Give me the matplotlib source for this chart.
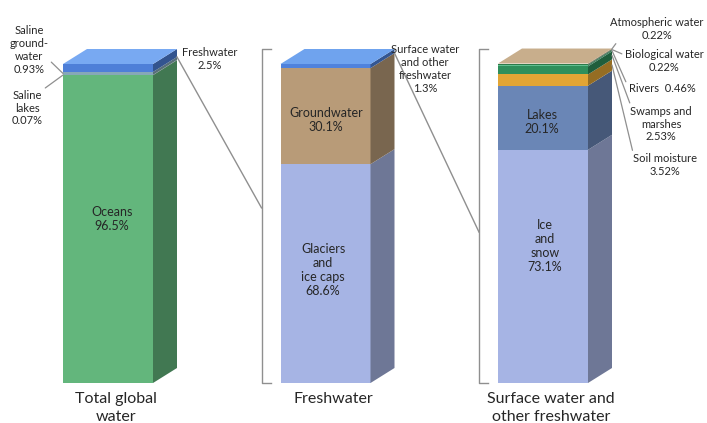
import numpy as np
import matplotlib.pyplot as plt
from matplotlib.patches import Polygon
from matplotlib.colors import to_rgb

plt.rcParams['font.family'] = ['Lato', 'DejaVu Sans']

# stacked shares, bottom to top
total_names = ["Oceans", "Saline lakes", "Saline groundwater", "Freshwater"]
total_values = [96.5, 0.07, 0.93, 2.5]
total_colors = ["#63b67c", "#9cc4a6", "#86a8b8", "#4e7fd8"]

fresh_names = ["Glaciers and ice caps", "Groundwater", "Surface water and other freshwater"]
fresh_values = [68.6, 30.1, 1.3]
fresh_colors = ["#a6b4e4", "#b89b78", "#4f82dc"]

surface_names = ["Ice and snow", "Lakes", "Soil moisture", "Swamps and marshes",
                 "Rivers", "Biological water", "Atmospheric water"]
surface_values = [73.1, 20.1, 3.52, 2.53, 0.46, 0.22, 0.22]
surface_colors = ["#a6b4e4", "#6a86b6", "#e2a535", "#2f8f5b", "#5fbf8f", "#2d7a4a", "#c8ae8c"]

bar_titles = ["Total global\nwater", "Freshwater", "Surface water and\nother freshwater"]
top_colors = ["#78a9f2", "#6fa3ee", "#c8ae8c"]

# pixel layout helpers
W, H = 707, 423
BASE_PX, TOP_PX = 383, 64
X0_PX, STEP_PX = 108, 217.5
UNIT_Y = 100 / (BASE_PX - TOP_PX)


def px(x, y):
    return ((x - X0_PX) / STEP_PX, (BASE_PX - y) * UNIT_Y)


bar_w = 90 / STEP_PX
dx = 24 / STEP_PX
dy = 15 * UNIT_Y
text_c = "#262626"
line_c = "#8f8f8f"

fig = plt.figure(figsize=(W / 100, H / 100), dpi=100)
ax = fig.add_axes([0, 0, 1, 1])
ax.set_xlim(px(0, 0)[0], px(W, 0)[0])
ax.set_ylim(px(0, H)[1], px(0, 0)[1])
ax.axis('off')


def shade(c, f=0.66):
    r, g, b = to_rgb(c)
    return (r * f, g * f, b * f)


def draw_stack(i, values, colors, top_color):
    values = np.asarray(values)
    bottoms = np.concatenate([[0], np.cumsum(values)[:-1]])
    left, right = i - bar_w / 2, i + bar_w / 2
    ax.bar(i, values, bottom=bottoms, width=bar_w, color=colors, edgecolor='none')
    for b, v, c in zip(bottoms, values, colors):
        ax.add_patch(Polygon([(right, b), (right + dx, b + dy), (right + dx, b + v + dy), (right, b + v)],
                             closed=True, fc=shade(c), ec='none'))
    top = bottoms[-1] + values[-1]
    ax.add_patch(Polygon([(left, top), (left + dx, top + dy), (right + dx, top + dy), (right, top)],
                         closed=True, fc=top_color, ec='none'))
    return bottoms


b1 = draw_stack(0, total_values, total_colors, top_colors[0])
b2 = draw_stack(1, fresh_values, fresh_colors, top_colors[1])
b3 = draw_stack(2, surface_values, surface_colors, top_colors[2])

# brackets and the lines that tie each top share to the next bar
bracket_gap = 19 / STEP_PX
tick = 9 / STEP_PX
join_y = [54.9, 47.3]
tops = [total_values[-1], fresh_values[-1]]
for k, i in enumerate([1, 2]):
    bx = i - bar_w / 2 - bracket_gap
    ax.plot([bx + tick, bx, bx, bx + tick], [0, 0, 100 + dy, 100 + dy], color=line_c, lw=1)
    sx = (i - 1) + bar_w / 2 + dx
    ax.plot([sx, bx], [100 - tops[k] + dy, join_y[k]], color=line_c, lw=1)

small = 8
# labels on the left of the first bar
lx = -bar_w / 2
ax.annotate("Saline\nground-\nwater\n0.93%", xy=(lx, b1[2] + total_values[2] / 2),
            xytext=px(29, 50), ha='center', va='center', fontsize=small, color=text_c,
            arrowprops=dict(arrowstyle='-', color=line_c, lw=0.9, shrinkA=0, shrinkB=0,
                            relpos=(0.75, 0.5)), linespacing=1.2)
ax.annotate("Saline\nlakes\n0.07%", xy=(lx, b1[1] + total_values[1] / 2),
            xytext=px(27, 108), ha='center', va='center', fontsize=small, color=text_c,
            arrowprops=dict(arrowstyle='-', color=line_c, lw=0.9, shrinkA=0, shrinkB=0,
                            relpos=(0.85, 0.9)), linespacing=1.2)
ax.text(*px(210, 59), "Freshwater\n2.5%", ha='center', va='center', fontsize=small,
        color=text_c, linespacing=1.2)
ax.text(*px(425, 69), "Surface water\nand other\nfreshwater\n1.3%", ha='center', va='center',
        fontsize=small, color=text_c, linespacing=1.2)

# labels on the right of the third bar
rx = 2 + bar_w / 2 + dx
right_labels = [
    (6, "Atmospheric water\n0.22%", (657, 29), (0.25, 0.9)),
    (5, "Biological water\n0.22%", (664, 61), (0.0, 0.75)),
    (4, "Rivers  0.46%", (662, 88), (0.0, 0.5)),
    (3, "Swamps and\nmarshes\n2.53%", (661, 124), (0.05, 0.82)),
    (2, "Soil moisture\n3.52%", (665, 165), (0.02, 0.8)),
]
for idx, txt, pos, rel in right_labels:
    ax.annotate(txt, xy=(rx, b3[idx] + surface_values[idx] / 2 + dy), xytext=px(*pos),
                ha='center', va='center', fontsize=small, color=text_c, linespacing=1.2,
                arrowprops=dict(arrowstyle='-', color=line_c, lw=0.9, shrinkA=0, shrinkB=0,
                                relpos=rel))

# labels inside the bars
inner = 9
ax.text(*px(112, 219), "Oceans\n96.5%", ha='center', va='center', fontsize=inner,
        color=text_c, linespacing=1.25)
ax.text(*px(326, 120), "Groundwater\n30.1%", ha='center', va='center', fontsize=inner,
        color=text_c, linespacing=1.25)
ax.text(*px(323, 270), "Glaciers\nand\nice caps\n68.6%", ha='center', va='center',
        fontsize=inner, color=text_c, linespacing=1.2)
ax.text(*px(542, 122), "Lakes\n20.1%", ha='center', va='center', fontsize=inner,
        color=text_c, linespacing=1.25)
ax.text(*px(545, 246), "Ice\nand\nsnow\n73.1%", ha='center', va='center', fontsize=inner,
        color=text_c, linespacing=1.2)

# bar titles under the bars
for i, t in enumerate(bar_titles):
    ax.text(i + dx / 2 - 4 / STEP_PX, px(0, 392)[1], t, ha='center', va='top', fontsize=11.5,
            color=text_c, linespacing=1.35)

fig.savefig("out.png", dpi=100)
